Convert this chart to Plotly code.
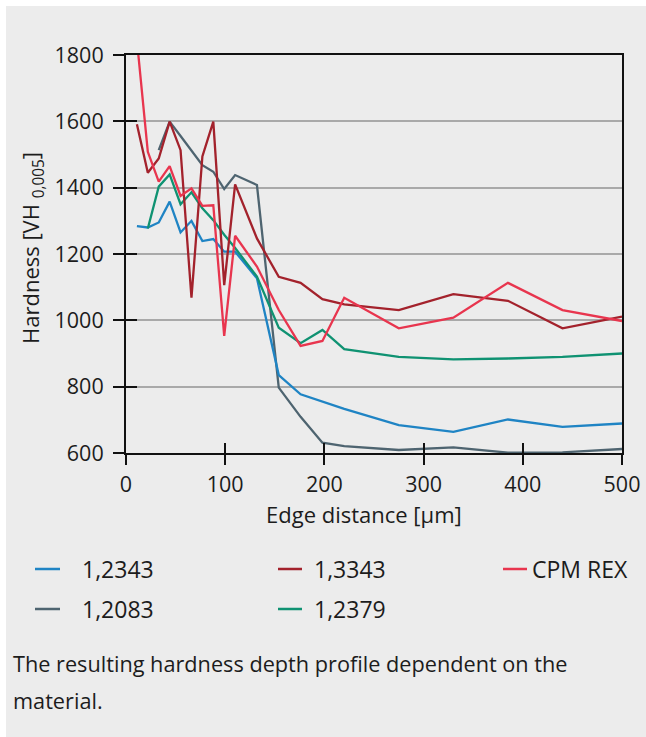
import plotly.graph_objects as go

# ---- data ----
x_all = [11, 22, 33, 44, 55, 66, 77, 88, 99, 110, 132, 154, 176, 198, 220, 275, 330, 385, 440, 500]

x_2343 = x_all
y_2343 = [1284, 1280, 1295, 1358, 1265, 1300, 1239, 1245, 1207, 1207, 1127, 835, 777, 755, 733, 684, 664, 701, 679, 689]

x_3343 = x_all
y_3343 = [1591, 1445, 1488, 1599, 1513, 1068, 1494, 1599, 1106, 1410, 1247, 1131, 1113, 1064, 1048, 1031, 1079, 1059, 976, 1011]

x_cpm = x_all
y_cpm = [1845, 1508, 1418, 1465, 1375, 1398, 1345, 1347, 953, 1255, 1162, 1031, 923, 938, 1068, 976, 1008, 1113, 1031, 998]

x_2083 = x_all[2:]
y_2083 = [1513, 1599, 1556, 1512, 1468, 1448, 1396, 1438, 1408, 797, 709, 631, 621, 609, 617, 601, 602, 612]

x_2379 = x_all[1:]
y_2379 = [1277, 1403, 1440, 1350, 1386, 1338, 1302, 1258, 1218, 1132, 978, 931, 971, 913, 890, 882, 885, 890, 900]

series_names = ["1,2343", "1,3343", "CPM REX", "1,2083", "1,2379"]
series_colors = ["#1f84c4", "#a3222c", "#e8354e", "#4e6470", "#0f9272"]

x_ticks = [0, 100, 200, 300, 400, 500]
y_ticks = [600, 800, 1000, 1200, 1400, 1600, 1800]

x_title = "Edge distance [µm]"
y_title = "Hardness [VH <sub>0,005</sub>]"
caption_lines = ["The resulting hardness depth profile dependent on the", "material."]

# ---- figure geometry (pixels) ----
W, H = 646, 737
L, R, T, B = 126, 24, 55, 284
PW, PH = W - L - R, H - T - B


def px(xp):
    return (xp - L) / PW


def py(yp):
    return (H - B - yp) / PH


FONT = "Open Sans"
TXT = "#1c1c1c"

fig = go.Figure()
data = [(x_2343, y_2343), (x_3343, y_3343), (x_cpm, y_cpm), (x_2083, y_2083), (x_2379, y_2379)]
draw_order = [3, 0, 4, 1, 2]
for i in draw_order:
    xs, ys = data[i]
    fig.add_trace(go.Scatter(x=xs, y=ys, mode="lines", name=series_names[i],
                             line=dict(color=series_colors[i], width=2.3),
                             showlegend=False))

axis_common = dict(showline=True, linecolor="#111111", linewidth=2,
                   tickfont=dict(family=FONT, size=21.5, color=TXT),
                   tickcolor="#111111", tickwidth=2, zeroline=False, automargin=False)

fig.update_layout(
    width=W, height=H, autosize=False,
    margin=dict(l=L, r=R, t=T, b=B, pad=0, autoexpand=False),
    paper_bgcolor="#ececec", plot_bgcolor="#ececec",
    font=dict(family=FONT, color=TXT),
    xaxis=dict(range=[0, 500], tickvals=x_ticks, ticks="outside", ticklen=10,
               showgrid=False, mirror=True, ticklabelstandoff=1, **axis_common),
    yaxis=dict(range=[600, 1800], tickvals=y_ticks, ticks="outside", ticklen=11,
               showgrid=True, gridcolor="#a9a9a9", gridwidth=1.5, mirror=True,
               ticklabelstandoff=5, **axis_common),
    xaxis2=dict(range=[0, 500], tickvals=x_ticks, ticks="inside", ticklen=10,
                overlaying="x", anchor="y", side="bottom", showticklabels=False,
                showgrid=False, showline=False, zeroline=False,
                tickcolor="#111111", tickwidth=2, automargin=False),
    yaxis2=dict(range=[600, 1800], tickvals=y_ticks, ticks="inside", ticklen=11,
                overlaying="y", anchor="x", side="left", showticklabels=False,
                showgrid=False, showline=False, zeroline=False,
                tickcolor="#111111", tickwidth=2, automargin=False),
    showlegend=False,
)
# invisible trace so the overlay (tick-crossing) axes are drawn
fig.add_trace(go.Scatter(x=[0], y=[600], xaxis="x2", yaxis="y2", mode="markers",
                         marker=dict(opacity=0), showlegend=False, hoverinfo="skip"))

# white outer strips (top and left)
fig.add_shape(type="rect", xref="paper", yref="paper", x0=px(0), x1=px(W), y0=py(0), y1=py(6),
              fillcolor="white", line_width=0, layer="below")
fig.add_shape(type="rect", xref="paper", yref="paper", x0=px(0), x1=px(6), y0=py(0), y1=py(H),
              fillcolor="white", line_width=0, layer="below")

annotations = []
annotations.append(dict(text=x_title, x=px(364), y=py(514), xref="paper", yref="paper",
                         showarrow=False, xanchor="center", yanchor="middle",
                         font=dict(family=FONT, size=22, color=TXT)))
annotations.append(dict(text=y_title, x=px(32), y=py(248), xref="paper", yref="paper",
                         showarrow=False, xanchor="center", yanchor="middle", textangle=-90,
                         font=dict(family=FONT, size=22, color=TXT)))

# legend (manual, three columns)
leg_pos = [(35, 60, 83, 569), (278, 302, 315, 569), (503, 527, 533, 569),
           (35, 60, 83, 609), (278, 302, 315, 609)]
for i, (lx0, lx1, tx, yy) in enumerate(leg_pos):
    fig.add_shape(type="line", xref="paper", yref="paper", x0=px(lx0), x1=px(lx1),
                  y0=py(yy), y1=py(yy), line=dict(color=series_colors[i], width=2.5))
    annotations.append(dict(text=series_names[i], x=px(tx), y=py(yy), xref="paper", yref="paper",
                             showarrow=False, xanchor="left", yanchor="middle", xshift=-3,
                             font=dict(family=FONT, size=23, color=TXT)))

# caption
for j, line in enumerate(caption_lines):
    annotations.append(dict(text=line, x=px(13), y=py(663 + 37 * j), xref="paper", yref="paper",
                             showarrow=False, xanchor="left", yanchor="middle", xshift=-2,
                             font=dict(family=FONT, size=21.7, color=TXT)))

fig.update_layout(annotations=annotations)
fig.write_html(
    "out.html",
    config={"displayModeBar": False, "responsive": False},
    post_script="document.body.style.margin='0';document.body.style.background='#ececec';",
)
